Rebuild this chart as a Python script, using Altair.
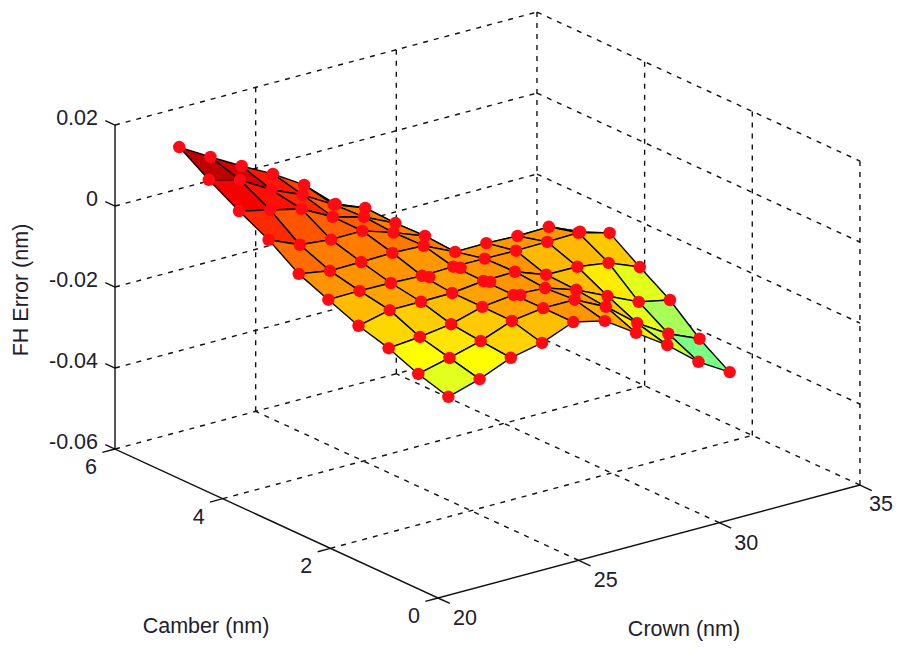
import altair as alt
import pandas as pd

crown_grid = [21.0, 22.11, 23.22, 24.33, 25.44, 26.56, 27.67, 28.78, 29.89, 31.0]
camber_grid = [0.33, 0.89, 1.44, 2.0, 2.56, 3.11, 3.67, 4.22, 4.78, 5.33]

# FH error (nm); each row is one camber value, each column one crown value
z_0 = [-0.0142, -0.0119, -0.0087, -0.0071, -0.0040, -0.0058, -0.0108, -0.0159, -0.0221, -0.0267]
z_1 = [-0.0120, -0.0101, -0.0080, -0.0051, -0.0040, -0.0040, -0.0078, -0.0139, -0.0186, -0.0219]
z_2 = [-0.0090, -0.0083, -0.0072, -0.0050, -0.0041, -0.0045, -0.0070, -0.0106, -0.0141, -0.0157]
z_3 = [-0.0069, -0.0051, -0.0051, -0.0050, -0.0041, -0.0039, -0.0067, -0.0068, -0.0079, -0.0110]
z_4 = [-0.0039, -0.0038, -0.0039, -0.0042, -0.0040, -0.0041, -0.0042, -0.0041, -0.0039, -0.0060]
z_5 = [-0.0009, -0.0022, -0.0021, -0.0019, -0.0022, -0.0058, -0.0057, -0.0060, -0.0058, -0.0091]
z_6 = [0.0041, 0.0008, 0.0000, 0.0001, -0.0024, -0.0053, -0.0130, -0.0200, -0.0270, -0.0310]
z_7 = [0.0078, 0.0060, 0.0042, 0.0002, -0.0019, -0.0055, -0.0160, -0.0230, -0.0290, -0.0315]
z_8 = [0.0121, 0.0100, 0.0055, 0.0022, -0.0023, -0.0052, -0.0190, -0.0250, -0.0300, -0.0317]
z_9 = [0.0168, 0.0123, 0.0080, 0.0040, -0.0008, -0.0076, -0.0160, -0.0240, -0.0318, -0.0316]
z_rows = [z_0, z_1, z_2, z_3, z_4, z_5, z_6, z_7, z_8, z_9]

# points that the surface covers in the reference (crown index, camber index)
covered = [(6, 6), (7, 6), (8, 6), (9, 6), (6, 7), (7, 7), (8, 7),
           (6, 8), (7, 8), (8, 8), (6, 9), (7, 9)]

crown_ticks = [20, 25, 30, 35]
camber_ticks = [0, 2, 4, 6]
z_ticks = [-0.06, -0.04, -0.02, 0.0, 0.02]
z_labels = ["-0.06", "-0.04", "-0.02", "0", "0.02"]

W, H = 886, 633
FONT = "Liberation Sans"
TEXT = "#20202c"


def px(c, m, z):
    return 438 + (c - 20) * 28.13 - m * 53.83


def py(c, m, z):
    return 598 - (c - 20) * 7.53 - m * 24.83 - (z + 0.06) * 4050


def jet(z):
    v = (z + 0.06) / 0.0768
    def f(t):
        return max(0.0, min(1.0, t))
    r, g, b = f(min(4 * v - 1.5, -4 * v + 4.5)), f(min(4 * v - 0.5, -4 * v + 3.5)), f(min(4 * v + 0.5, -4 * v + 2.5))
    return "#%02x%02x%02x" % (round(r * 255), round(g * 255), round(b * 255))


def segments(items):
    rows = []
    for n, pts in enumerate(items):
        for k, (c, m, z) in enumerate(pts):
            rows.append({"id": n, "k": k, "sx": px(c, m, z), "sy": py(c, m, z)})
    return pd.DataFrame(rows)


X = alt.X("sx:Q", scale=alt.Scale(domain=[8, 8 + W], nice=False, zero=False), axis=None)
Y = alt.Y("sy:Q", scale=alt.Scale(domain=[8 + H, 8], nice=False, zero=False), axis=None)

# dashed box grid
zb, zt = -0.06, 0.02
grid = []
for c in crown_ticks[1:]:
    grid.append([(c, 6, zb), (c, 6, zt)])
for c in crown_ticks[1:3]:
    grid.append([(c, 0, zb), (c, 6, zb)])
for m in camber_ticks[:3]:
    grid.append([(35, m, zb), (35, m, zt)])
for m in camber_ticks[1:3]:
    grid.append([(20, m, zb), (35, m, zb)])
grid.append([(35, 0, zb), (35, 6, zb)])
grid.append([(20, 6, zb), (35, 6, zb)])
for z in z_ticks[1:]:
    grid.append([(20, 6, z), (35, 6, z)])
    grid.append([(35, 6, z), (35, 0, z)])
grid_layer = alt.Chart(segments(grid)).mark_line(
    color="#111111", strokeWidth=1.4, strokeDash=[5, 6]
).encode(x=X, y=Y, detail="id:N", order="k:Q")

# solid axes and ticks
axes = [[(20, 6, zt), (20, 6, zb), (20, 0, zb), (35, 0, zb)]]
for z in z_ticks:
    axes.append([(20, 6, z), (20, 6.18, z)])
for m in camber_ticks:
    axes.append([(20, m, zb), (19.55, m, zb)])
for c in crown_ticks:
    axes.append([(c, 0, zb), (c, -0.22, zb)])
axes_layer = alt.Chart(segments(axes)).mark_line(
    color="#111111", strokeWidth=1.4
).encode(x=X, y=Y, detail="id:N", order="k:Q")

# surface cells, far to near; each cell takes the colour of its nearest corner
cell_rows = []
n = 0
for i in range(8, -1, -1):
    for j in range(8, -1, -1):
        corners = [(i, j), (i + 1, j), (i + 1, j + 1), (i, j + 1), (i, j)]
        for k, (a, b) in enumerate(corners):
            c, m, z = crown_grid[a], camber_grid[b], z_rows[b][a]
            cell_rows.append({"id": f"c{n:03d}", "k": k, "sx": px(c, m, z), "sy": py(c, m, z), "fillc": jet(z_rows[j][i])})
        n += 1
surface_layer = alt.Chart(pd.DataFrame(cell_rows)).mark_line(
    stroke="#000000", strokeWidth=1.4, strokeJoin="round"
).encode(
    x=X, y=Y, detail="id:N", order="k:Q",
    fill=alt.Fill("fillc:N", scale=None, legend=None),
)

# red data points
pt_rows = []
for j, row in enumerate(z_rows):
    for i, z in enumerate(row):
        if (i, j) not in covered:
            pt_rows.append({"sx": px(crown_grid[i], camber_grid[j], z), "sy": py(crown_grid[i], camber_grid[j], z)})
points_layer = alt.Chart(pd.DataFrame(pt_rows)).mark_circle(
    color="#ff0a14", size=155, opacity=1
).encode(x=X, y=Y)


def labels(rows, dx, dy, align):
    return alt.Chart(pd.DataFrame(rows)).mark_text(
        font=FONT, fontSize=21.5, color=TEXT, align=align, baseline="middle", dx=dx, dy=dy
    ).encode(x=X, y=Y, text="t:N")


z_text = labels([{"sx": px(20, 6, z), "sy": py(20, 6, z), "t": t} for z, t in zip(z_ticks, z_labels)], -17, -6, "right")
m_text = labels([{"sx": px(20, m, zb), "sy": py(20, m, zb), "t": str(m)} for m in camber_ticks], -24, 19, "center")
c_text = labels([{"sx": px(c, 0, zb), "sy": py(c, 0, zb), "t": str(c)} for c in crown_ticks[:3]], 27, 21, "center")
c_last = labels([{"sx": px(35, 0, zb), "sy": py(35, 0, zb), "t": str(crown_ticks[3])}], 33, 20, "right")

title_rows = pd.DataFrame([{"t": "x"}])


def title(text, x, y, angle=0):
    return alt.Chart(title_rows).mark_text(
        text=text, font=FONT, fontSize=21.5, color=TEXT, align="center", baseline="middle", angle=angle
    ).encode(x=alt.value(x - 8), y=alt.value(y - 8))


chart = alt.layer(
    grid_layer, axes_layer, surface_layer, points_layer, z_text, m_text, c_text, c_last,
    title("FH Error (nm)", 22, 290, 270),
    title("Camber (nm)", 206, 627),
    title("Crown (nm)", 684, 630),
).properties(
    width=W, height=H, padding=0, autosize=alt.AutoSizeParams(type="none"), background="white"
).configure_view(stroke=None)

chart.save("out.html", embed_options={"renderer": "svg", "actions": False})
